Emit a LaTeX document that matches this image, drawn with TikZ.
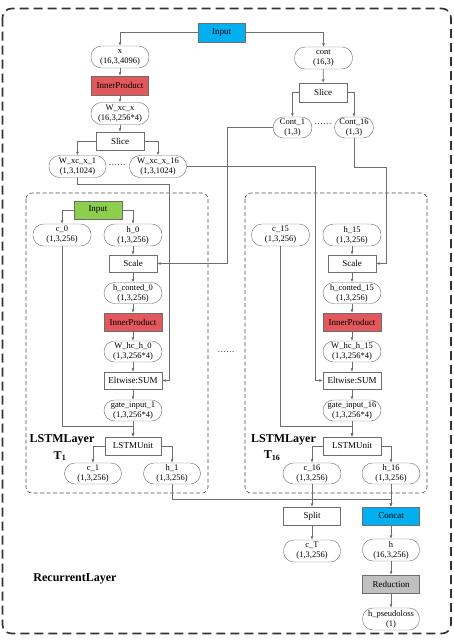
\documentclass[tikz,border=0pt]{standalone}
\usepackage{fontspec}
\setmainfont{Liberation Serif}
\usetikzlibrary{arrows.meta,calc}

\definecolor{inblue}{RGB}{0,176,240}
\definecolor{ipred}{RGB}{226,88,92}
\definecolor{ingreen}{RGB}{142,206,78}
\definecolor{redgray}{RGB}{192,192,192}
\definecolor{linegray}{RGB}{110,110,110}

\tikzset{
  oval/.style={draw=linegray, rounded corners=10.5pt, minimum width=58pt, minimum height=22pt,
    inner sep=0pt, align=center, font=\fontsize{8.5}{10}\selectfont},
  opbox/.style={draw=linegray, minimum width=48pt, minimum height=18pt, inner sep=0pt,
    font=\fontsize{9}{10}\selectfont},
  arr/.style={draw=linegray, line width=0.7pt, -{Latex[length=3.5pt,width=3pt]}},
  wire/.style={draw=linegray, line width=0.7pt},
  layerlbl/.style={font=\bfseries\fontsize{12}{13}\selectfont, inner sep=0pt},
}

\begin{document}
\begin{tikzpicture}[x=1pt,y=1pt,yscale=-1,xscale=1]
\useasboundingbox (0,0) rectangle (454,640);

% outer frame
\draw [line width=1.6pt, color=black!80, dash pattern=on 9pt off 5pt, rounded corners=9pt] (2.5,8.5) rectangle (451,633.5);
% LSTM layer frames
\draw [line width=0.6pt, color=black!70, dash pattern=on 4pt off 2.5pt, rounded corners=6pt] (26,193) rectangle (208,493);
\draw [line width=0.6pt, color=black!70, dash pattern=on 4pt off 2.5pt, rounded corners=6pt] (245,193) rectangle (427,493);

% top part
\node [opbox, fill=inblue, minimum width=47pt, minimum height=19pt] (input) at (221.5,32.5) {Input};
\node [oval] (x) at (120,57) {x\\(16,3,4096)};
\node [oval] (cont) at (323.5,58) {cont\\(16,3)};
\node [opbox, fill=ipred, minimum width=57pt, minimum height=19pt] (ip1) at (120,85.5) {InnerProduct};
\node [oval] (wxcx) at (120,113.5) {W\_xc\_x\\(16,3,256*4)};
\node [opbox] (slice1) at (120,141) {Slice};
\node [oval, minimum width=57pt] (wx1) at (77.5,166.5) {W\_xc\_x\_1\\(1,3,1024)};
\node [oval, minimum width=57pt] (wx16) at (158,166.5) {W\_xc\_x\_16\\(1,3,1024)};
\node [opbox, minimum height=19pt] (slice2) at (323,92.5) {Slice};
\node [oval, minimum width=39pt, minimum height=21pt] (cont1) at (292.5,127.5) {Cont\_1\\(1,3)};
\node [oval, minimum width=39pt, minimum height=21pt] (cont16) at (354,127.5) {Cont\_16\\(1,3)};
\node [font=\fontsize{8.5}{10}\selectfont] (dots1) at (117,165) {\ldots\ldots};
\node [font=\fontsize{8.5}{10}\selectfont] (dots2) at (323,124) {\ldots\ldots};

% LSTM layer T1
\node [opbox, fill=ingreen] (in1) at (98,210) {Input};
\node [oval] (c0) at (62,235) {c\_0\\(1,3,256)};
\node [oval] (h0) at (133,235) {h\_0\\(1,3,256)};
\node [opbox, minimum height=17pt] (scale1) at (133,263.5) {Scale};
\node [oval, minimum height=21pt] (hc0) at (133,293) {h\_conted\_0\\(1,3,256)};
\node [opbox, fill=ipred, minimum width=58pt] (ip2) at (133,322) {InnerProduct};
\node [oval, minimum height=21pt] (whc0) at (133,351.5) {W\_hc\_h\_0\\(1,3,256*4)};
\node [opbox, minimum width=58pt, minimum height=17pt] (elt1) at (133,380.5) {Eltwise:SUM};
\node [oval, minimum height=21pt] (gate1) at (133,410.5) {gate\_input\_1\\(1,3,256*4)};
\node [opbox, minimum width=56pt] (unit1) at (133,446) {LSTMUnit};
\node [oval, minimum width=57pt, minimum height=21pt] (c1) at (93,473.5) {c\_1\\(1,3,256)};
\node [oval, minimum width=57pt, minimum height=21pt] (h1) at (172,473.5) {h\_1\\(1,3,256)};
\node [layerlbl] (lbl1) at (62,440) {LSTMLayer};
\node [layerlbl] (lbl1t) at (60,456) {T$_{\mathbf{1}}$};

\node [font=\fontsize{8.5}{10}\selectfont] (dots3) at (226,352) {\ldots\ldots};

% LSTM layer T16
\node [oval] (c15) at (280.5,235) {c\_15\\(1,3,256)};
\node [oval] (h15) at (352,235) {h\_15\\(1,3,256)};
\node [opbox, minimum height=17pt] (scale16) at (352,263.5) {Scale};
\node [oval, minimum height=21pt] (hc15) at (352,293) {h\_conted\_15\\(1,3,256)};
\node [opbox, fill=ipred, minimum width=58pt] (ip16) at (352,322) {InnerProduct};
\node [oval, minimum height=21pt] (whc15) at (352,351.5) {W\_hc\_h\_15\\(1,3,256*4)};
\node [opbox, minimum width=58pt, minimum height=17pt] (elt16) at (352,380.5) {Eltwise:SUM};
\node [oval, minimum height=21pt] (gate16) at (352,410.5) {gate\_input\_16\\(1,3,256*4)};
\node [opbox, minimum width=58pt] (unit16) at (352,446) {LSTMUnit};
\node [oval, minimum height=21pt] (c16) at (312,473.5) {c\_16\\(1,3,256)};
\node [oval, minimum height=21pt] (h16) at (391,473.5) {h\_16\\(1,3,256)};
\node [layerlbl] (lbl16) at (283.5,440) {LSTMLayer};
\node [layerlbl] (lbl16t) at (272,456) {T$_{\mathbf{16}}$};

% bottom part
\node [opbox, minimum width=57pt] (split) at (312,516) {Split};
\node [opbox, fill=inblue, minimum width=57pt] (concat) at (391,516) {Concat};
\node [oval, minimum width=57pt] (cT) at (312,551) {c\_T\\(1,3,256)};
\node [oval, minimum width=57pt] (hvec) at (391,550) {h\\(16,3,256)};
\node [opbox, fill=redgray, minimum width=57pt] (reduce) at (391,584) {Reduction};
\node [oval, minimum width=57pt] (hpl) at (391,619) {h\_pseudoloss\\(1)};
\node [layerlbl] (lblrec) at (75,579) {RecurrentLayer};

% connectors, top
\draw [arr] (input.west) -| (x.north);
\draw [arr] (input.east) -| (cont.north);
\draw [arr] (x) -- (ip1);
\draw [arr] (ip1) -- (wxcx);
\draw [arr] (wxcx) -- (slice1);
\draw [arr] (slice1.west) -| (wx1.north);
\draw [arr] (slice1.east) -| (wx16.north);
\draw [arr] (cont) -- (slice2);
\draw [arr] (slice2.west) -| (cont1.north);
\draw [arr] (slice2.east) -| (cont16.north);

% connectors into the layers
\draw [arr] (wx1.south) |- (169,184) |- (elt1.east);
\draw [arr] (wx16.east) -| ($(elt16.west)+(-7,0)$) -- (elt16.west);
\draw [arr] (cont1.west) -| ($(scale1.east)+(70,0)$) -- (scale1.east);
\draw [arr] (cont16.south) |- (386,167) |- (scale16.east);

% LSTM layer T1
\draw [arr] (in1.west) -| (c0.north);
\draw [arr] (in1.east) -| (h0.north);
\draw [arr] (h0) -- (scale1);
\draw [arr] (scale1) -- (hc0);
\draw [arr] (hc0) -- (ip2);
\draw [arr] (ip2) -- (whc0);
\draw [arr] (whc0) -- (elt1);
\draw [arr] (elt1) -- (gate1);
\draw [arr] (gate1) -- (unit1);
\draw [arr] (c0.south) |- ($(unit1.north)+(0,-10)$) -- (unit1.north);
\draw [arr] (unit1.west) -| (c1.north);
\draw [arr] (unit1.east) -| (h1.north);

% LSTM layer T16
\draw [arr] (h15) -- (scale16);
\draw [arr] (scale16) -- (hc15);
\draw [arr] (hc15) -- (ip16);
\draw [arr] (ip16) -- (whc15);
\draw [arr] (whc15) -- (elt16);
\draw [arr] (elt16) -- (gate16);
\draw [arr] (gate16) -- (unit16);
\draw [arr] (c15.south) |- ($(unit16.north)+(0,-10)$) -- (unit16.north);
\draw [arr] (unit16.west) -| (c16.north);
\draw [arr] (unit16.east) -| (h16.north);

% connectors, bottom
\draw [arr] (h1.south) |- ($(concat.north)+(0,-7)$) -- (concat.north);
\draw [arr] (h16) -- (concat);
\draw [arr] (c16) -- (split);
\draw [arr] (split) -- (cT);
\draw [arr] (concat) -- (hvec);
\draw [arr] (hvec) -- (reduce);
\draw [arr] (reduce) -- (hpl);

\end{tikzpicture}
\end{document}
